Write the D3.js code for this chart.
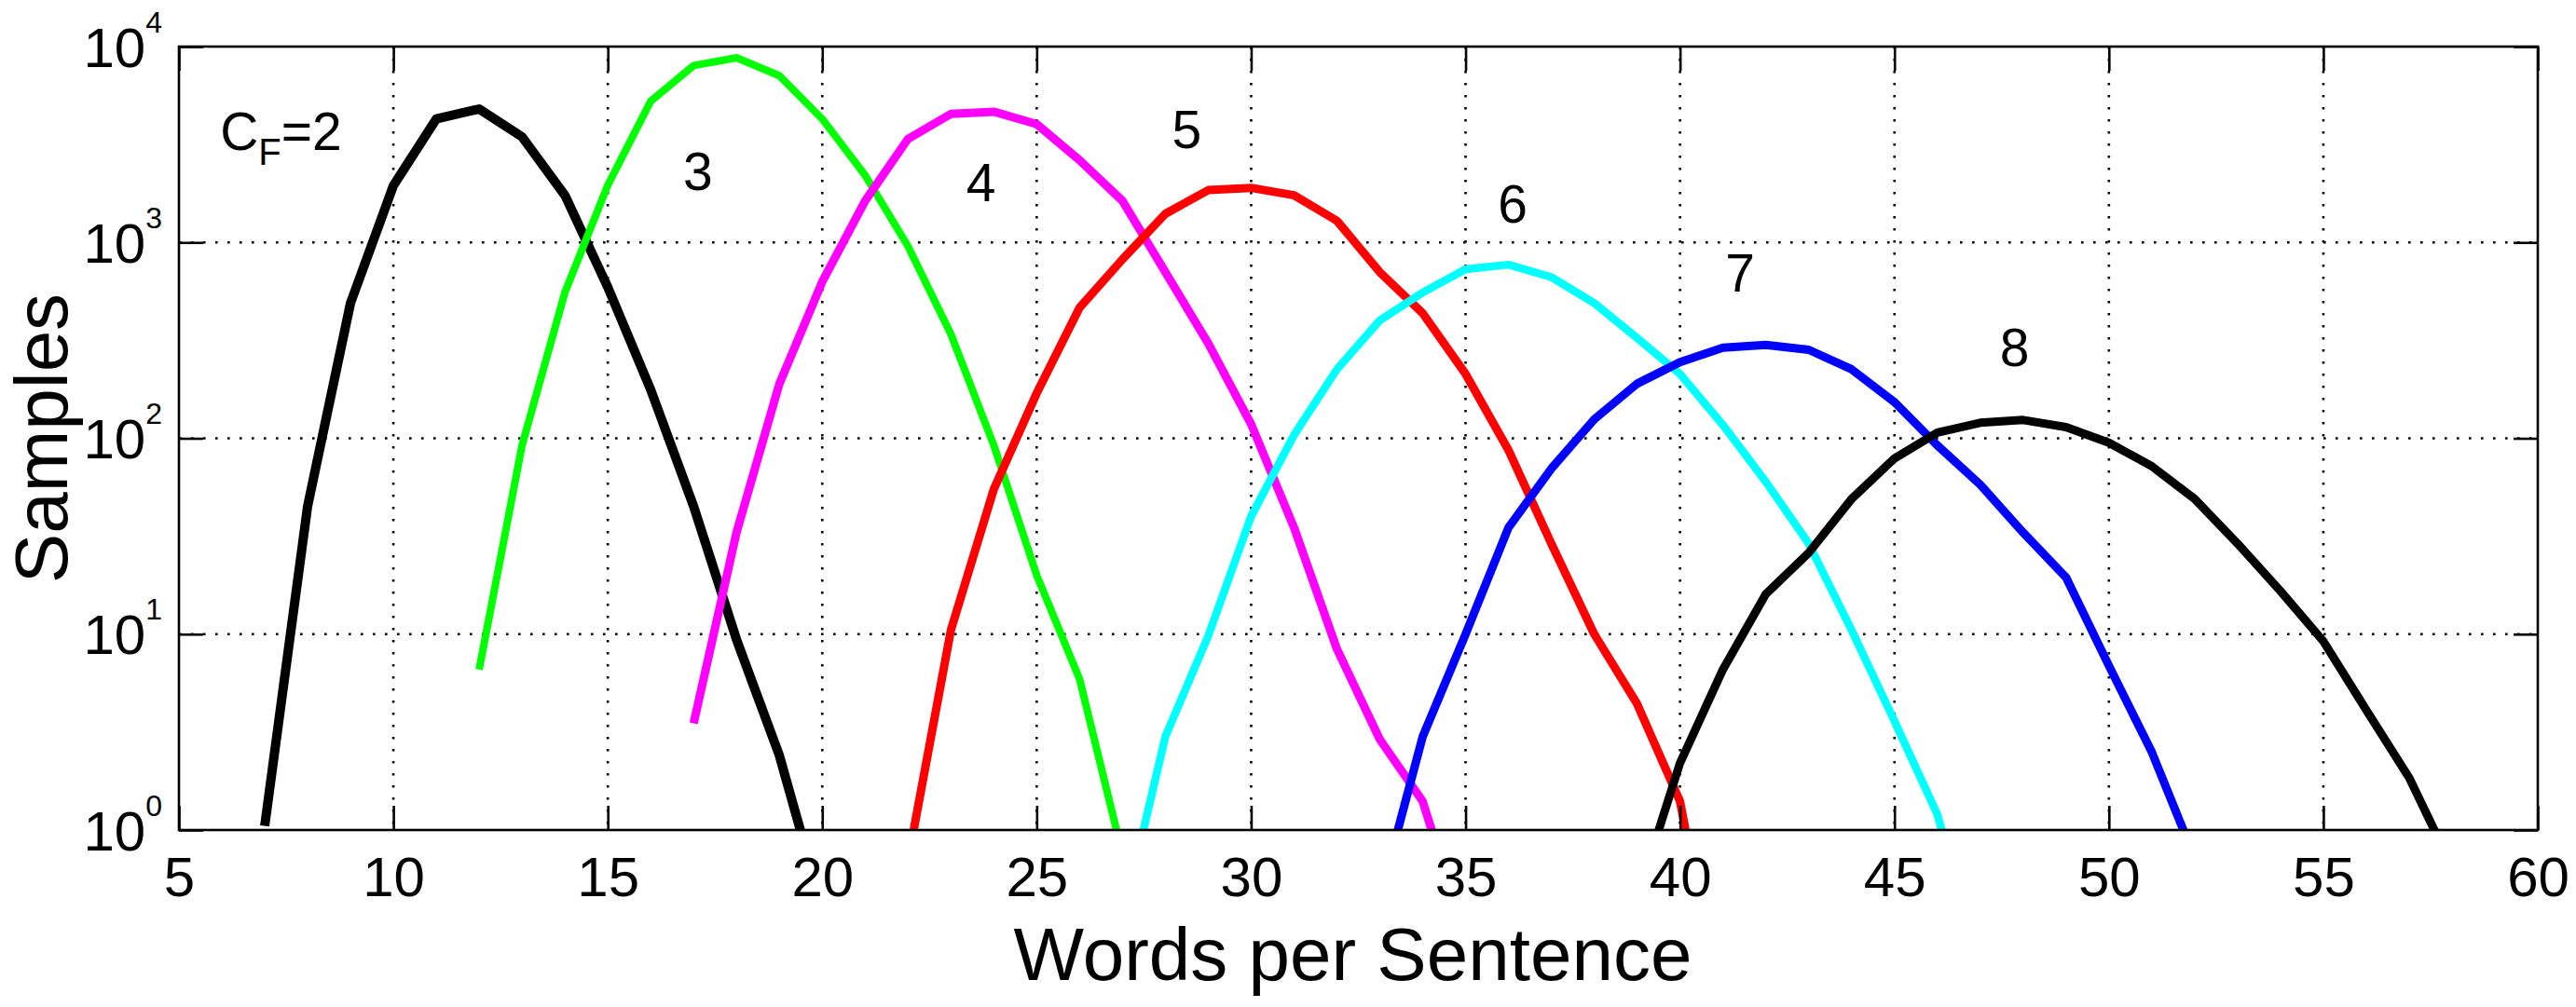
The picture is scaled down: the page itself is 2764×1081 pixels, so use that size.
<!DOCTYPE html>
<html>
<head>
<meta charset="utf-8">
<script src="https://cdn.jsdelivr.net/npm/d3@7"></script>
<style>
  body { margin: 0; background: #fff; }
  text { font-family: "Liberation Sans", Arial, Helvetica, sans-serif; fill: #000; }
</style>
</head>
<body>
<div id="chart"></div>
<script>
// C_F levels, one curve each
const cfLevels = [2, 3, 4, 5, 6, 7, 8];
// first "words per sentence" value of every curve (one sample per word after that)
const firstWords = [7, 12, 17, 22, 27, 33, 39];

// samples, one value per integer word count
const samplesCF2 = [1.05, 45, 490, 1950, 4270, 4800, 3460, 1740, 590, 177, 45, 9.4, 2.4, 0.4];
const samplesCF3 = [6.6, 92, 556, 1960, 5260, 8000, 8770, 7100, 4270, 2200, 955, 340, 92, 20, 5.9, 0.75];
const samplesCF4 = [3.5, 33, 190, 630, 1630, 3380, 4530, 4650, 4020, 2630, 1630, 705, 305, 118, 35, 8.4, 2.9, 1.4, 0.28];
const samplesCF5 = [0.7, 10.5, 55, 170, 465, 820, 1400, 1850, 1900, 1740, 1290, 705, 435, 213, 87, 29, 10, 4.4, 1.4, 0.1];
const samplesCF6 = [0.35, 3.0, 9.8, 40, 104, 225, 400, 555, 730, 770, 665, 490, 325, 213, 117, 60, 29, 10.5, 3.6, 1.2, 0.2];
const samplesCF7 = [0.45, 3.0, 10, 35, 70, 125, 190, 245, 290, 300, 283, 225, 153, 92, 58, 33, 19.5, 6.9, 2.5, 0.72];
const samplesCF8 = [0.45, 2.2, 6.6, 16, 26, 49, 79, 107, 120, 124, 114, 95, 72, 49, 29, 16.6, 9.2, 4.1, 1.85, 0.65];
const allSamples = [samplesCF2, samplesCF3, samplesCF4, samplesCF5, samplesCF6, samplesCF7, samplesCF8];

// curve labels, placed in data units
const labelWords = [17.1, 23.7, 28.5, 36.1, 41.4, 47.8];
const labelSamples = [1860, 1620, 3020, 1260, 562, 234];
const cfLabelWords = 5.96;
const cfLabelSamples = 2950;

// ticks
const xTicks = [5, 10, 15, 20, 25, 30, 35, 40, 45, 50, 55, 60];
const yExponents = [0, 1, 2, 3, 4];

// styles
const lineColors = ["#000000", "#00ff00", "#ff00ff", "#ff0000", "#00ffff", "#0000ff", "#000000"];
const lineWidths = [10, 8, 9, 9, 8.5, 9, 9];

const width = 2764;
const height = 1081;
const plotLeft = 192, plotRight = 2723, plotTop = 50, plotBottom = 891;
const tickLen = 26;

const x = d3.scaleLinear().domain([5, 60]).range([plotLeft, plotRight]);
const y = d3.scaleLog().domain([1, 1e4]).range([plotBottom, plotTop]);

const svg = d3.select("#chart")
  .append("svg")
    .attr("width", width)
    .attr("height", height);

svg.append("rect").attr("width", width).attr("height", height).attr("fill", "#fff");

//clip the curves to the axes box
svg.append("clipPath").attr("id", "plotClip")
  .append("rect")
    .attr("x", plotLeft).attr("y", plotTop)
    .attr("width", plotRight - plotLeft).attr("height", plotBottom - plotTop);

//dotted grid
const grid = svg.append("g")
  .attr("stroke", "#000")
  .attr("stroke-width", 2.6)
  .attr("stroke-dasharray", "2.6 10.4");

grid.selectAll(".vgrid")
  .data(xTicks.slice(1, -1))
  .enter().append("line")
    .attr("x1", d => x(d)).attr("x2", d => x(d))
    .attr("y1", plotTop).attr("y2", plotBottom);

grid.selectAll(".hgrid")
  .data(yExponents.slice(1, -1))
  .enter().append("line")
    .attr("x1", plotLeft).attr("x2", plotRight)
    .attr("y1", d => y(Math.pow(10, d))).attr("y2", d => y(Math.pow(10, d)));

//curves
const line = d3.line()
  .x(d => x(d.w))
  .y(d => y(d.s));

const curves = svg.append("g").attr("clip-path", "url(#plotClip)");

allSamples.forEach((samples, i) => {
  const pts = samples.map((s, j) => ({ w: firstWords[i] + j, s: s }));
  curves.append("path")
    .datum(pts)
    .attr("fill", "none")
    .attr("stroke", lineColors[i])
    .attr("stroke-width", lineWidths[i])
    .attr("stroke-linejoin", "round")
    .attr("d", line);
});

//axes: ticks point inwards on all four sides
const xAxis = svg.append("g")
  .attr("transform", `translate(0,${plotBottom})`)
  .call(d3.axisBottom(x).tickValues(xTicks).tickSize(-tickLen).tickPadding(28));

svg.append("g")
  .attr("transform", `translate(0,${plotTop})`)
  .call(d3.axisTop(x).tickValues(xTicks).tickSize(-tickLen).tickFormat(""));

const yTickValues = yExponents.map(e => Math.pow(10, e));

const yAxis = svg.append("g")
  .attr("transform", `translate(${plotLeft},0)`)
  .call(d3.axisLeft(y).tickValues(yTickValues).tickSize(-tickLen).tickFormat(""));

svg.append("g")
  .attr("transform", `translate(${plotRight},0)`)
  .call(d3.axisRight(y).tickValues(yTickValues).tickSize(-tickLen).tickFormat(""));

svg.selectAll(".domain").remove();
svg.selectAll(".tick line").attr("stroke", "#000").attr("stroke-width", 2.6);

xAxis.selectAll("text")
  .attr("font-size", 60)
  .attr("font-family", "Liberation Sans, Arial, sans-serif");

//10^n labels for the log axis
yAxis.selectAll(".tick")
  .append("text")
    .attr("x", -18)
    .attr("y", 21)
    .attr("text-anchor", "end")
    .attr("fill", "#000")
    .attr("font-family", "Liberation Sans, Arial, sans-serif")
    .each(function (d) {
      const t = d3.select(this);
      t.append("tspan").attr("font-size", 60).text("10");
      t.append("tspan").attr("font-size", 32).attr("dy", -37).text(Math.round(Math.log10(d)));
    });

//box
svg.append("rect")
  .attr("x", plotLeft).attr("y", plotTop)
  .attr("width", plotRight - plotLeft).attr("height", plotBottom - plotTop)
  .attr("fill", "none")
  .attr("stroke", "#000")
  .attr("stroke-width", 2.6);

//curve labels
svg.selectAll(".cflabel")
  .data(labelWords)
  .enter().append("text")
    .attr("x", d => x(d))
    .attr("y", (d, i) => y(labelSamples[i]))
    .attr("text-anchor", "middle")
    .attr("font-size", 57)
    .text((d, i) => cfLevels[i + 1]);

const cf = svg.append("text")
  .attr("x", x(cfLabelWords))
  .attr("y", y(cfLabelSamples))
  .attr("font-size", 57);
cf.append("tspan").text("C");
cf.append("tspan").attr("font-size", 40).attr("dy", 16).text("F");
cf.append("tspan").attr("dy", -16).text("=" + cfLevels[0]);

//axis titles
svg.append("text")
  .attr("x", (plotLeft + plotRight) / 2 - 6)
  .attr("y", 1052)
  .attr("text-anchor", "middle")
  .attr("font-size", 80)
  .text("Words per Sentence");

svg.append("text")
  .attr("transform", `translate(72,${(plotTop + plotBottom) / 2}) rotate(-90)`)
  .attr("text-anchor", "middle")
  .attr("font-size", 80)
  .text("Samples");
</script>
</body>
</html>
